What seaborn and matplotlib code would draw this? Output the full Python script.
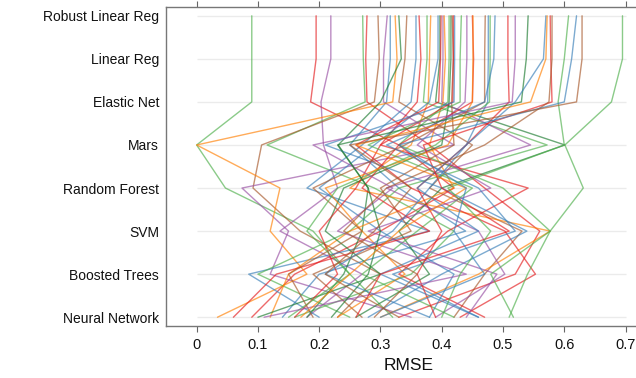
import numpy as np
import pandas as pd
import matplotlib
matplotlib.use('Agg')
import matplotlib.pyplot as plt
import seaborn as sns

# models, top to bottom
models = ['Robust Linear Reg', 'Linear Reg', 'Elastic Net', 'Mars',
          'Random Forest', 'SVM', 'Boosted Trees', 'Neural Network']

# RMSE of each resample (one value per line) for every model
robust = [0.090, 0.195, 0.219, 0.271, 0.278, 0.296, 0.311, 0.316, 0.324, 0.330, 0.343,
          0.358, 0.363, 0.376, 0.382, 0.394, 0.397, 0.399, 0.402, 0.404, 0.412, 0.415,
          0.417, 0.419, 0.421, 0.432, 0.441, 0.450, 0.451, 0.471, 0.476, 0.479, 0.487,
          0.508, 0.520, 0.541, 0.570, 0.572, 0.577, 0.580, 0.607, 0.620, 0.629, 0.695]
linear = [0.090, 0.195, 0.219, 0.272, 0.276, 0.298, 0.305, 0.316, 0.327, 0.334, 0.340,
          0.358, 0.366, 0.376, 0.380, 0.394, 0.397, 0.398, 0.402, 0.406, 0.412, 0.415,
          0.419, 0.419, 0.421, 0.430, 0.441, 0.452, 0.451, 0.470, 0.476, 0.479, 0.485,
          0.508, 0.520, 0.538, 0.566, 0.570, 0.578, 0.580, 0.600, 0.612, 0.629, 0.695]
elastic = [0.090, 0.186, 0.203, 0.275, 0.278, 0.290, 0.305, 0.310, 0.320, 0.300, 0.330,
           0.350, 0.360, 0.370, 0.378, 0.380, 0.390, 0.395, 0.400, 0.402, 0.410, 0.412,
           0.416, 0.418, 0.420, 0.430, 0.438, 0.450, 0.450, 0.470, 0.475, 0.478, 0.470,
           0.510, 0.515, 0.530, 0.520, 0.545, 0.580, 0.575, 0.590, 0.600, 0.620, 0.677]
mars = [0.000, 0.330, 0.207, 0.115, 0.380, 0.106, 0.420, 0.250, 0.000, 0.231, 0.450,
        0.270, 0.300, 0.572, 0.350, 0.290, 0.601, 0.260, 0.545, 0.380, 0.330, 0.400,
        0.420, 0.300, 0.210, 0.280, 0.360, 0.330, 0.410, 0.340, 0.440, 0.390, 0.310,
        0.440, 0.190, 0.230, 0.440, 0.260, 0.370, 0.470, 0.600, 0.330, 0.250, 0.601]
rf = [0.047, 0.420, 0.230, 0.290, 0.470, 0.092, 0.074, 0.330, 0.136, 0.280, 0.380,
      0.180, 0.541, 0.330, 0.250, 0.200, 0.400, 0.350, 0.310, 0.420, 0.500, 0.240,
      0.300, 0.260, 0.400, 0.450, 0.480, 0.270, 0.210, 0.190, 0.380, 0.230, 0.460,
      0.360, 0.320, 0.280, 0.360, 0.440, 0.400, 0.310, 0.410, 0.440, 0.350, 0.631]
svm = [0.190, 0.300, 0.136, 0.420, 0.560, 0.169, 0.150, 0.439, 0.120, 0.270, 0.531,
       0.380, 0.410, 0.250, 0.577, 0.300, 0.330, 0.503, 0.460, 0.250, 0.577, 0.210,
       0.350, 0.200, 0.539, 0.360, 0.280, 0.380, 0.270, 0.270, 0.320, 0.180, 0.520,
       0.400, 0.230, 0.300, 0.460, 0.330, 0.510, 0.240, 0.480, 0.420, 0.290, 0.577]
bt = [0.250, 0.160, 0.270, 0.350, 0.520, 0.300, 0.120, 0.200, 0.180, 0.240, 0.470,
      0.085, 0.330, 0.100, 0.460, 0.420, 0.380, 0.553, 0.503, 0.150, 0.540, 0.300,
      0.190, 0.230, 0.400, 0.270, 0.490, 0.130, 0.340, 0.150, 0.210, 0.250, 0.320,
      0.360, 0.440, 0.280, 0.300, 0.250, 0.300, 0.360, 0.430, 0.470, 0.210, 0.480]
nn = [0.320, 0.090, 0.180, 0.160, 0.330, 0.230, 0.350, 0.140, 0.034, 0.180, 0.420,
      0.200, 0.470, 0.250, 0.300, 0.380, 0.260, 0.430, 0.390, 0.120, 0.510, 0.100,
      0.270, 0.160, 0.280, 0.420, 0.440, 0.060, 0.230, 0.190, 0.380, 0.150, 0.460,
      0.390, 0.110, 0.220, 0.460, 0.170, 0.260, 0.290, 0.400, 0.300, 0.330, 0.517]

xticks = [0, 0.1, 0.2, 0.3, 0.4, 0.5, 0.6, 0.7]
xtick_labels = ['0', '0.1', '0.2', '0.3', '0.4', '0.5', '0.6', '0.7']

# line colours
pal = {'r': '#e41a1c', 'b': '#377eb8', 'g': '#4daf4a', 'p': '#984ea3',
       'o': '#ff7f00', 'n': '#a65628', 'd': '#1b7a2e'}
line_col = 'grpgrnpbodnbrgobdrpogdnrbgpronbgbrpdborngbng'

df = pd.DataFrame({'Robust Linear Reg': robust, 'Linear Reg': linear,
                   'Elastic Net': elastic, 'Mars': mars, 'Random Forest': rf,
                   'SVM': svm, 'Boosted Trees': bt, 'Neural Network': nn})
df['line'] = ['s%02d' % i for i in range(len(df))]
long = df.melt(id_vars='line', var_name='model', value_name='RMSE')
long['pos'] = long['model'].map({m: i for i, m in enumerate(models)})
long = long.sort_values(['line', 'pos'])

palette = {lab: pal[c] for lab, c in zip(df['line'], line_col)}

sns.set_style('white')
plt.rcParams['font.family'] = ['Liberation Sans', 'DejaVu Sans']

fig, ax = plt.subplots(figsize=(6.36, 3.78), dpi=100)
# axes runs a little past the right edge of the picture (cropped like the original)
fig.subplots_adjust(left=0.261, right=1.025, bottom=0.138, top=0.981)

ax.hlines(range(len(models)), 0, 0.7, color='#ebebeb', lw=1, zorder=0)
sns.lineplot(data=long, x='RMSE', y='pos', hue='line', palette=palette,
             estimator=None, sort=False, orient='y', legend=False,
             lw=1, alpha=0.65, ax=ax)

ax.set_xlim(-0.05, 0.743)
ax.set_ylim(len(models) - 1 + 0.2, -0.2)
ax.set_xticks(xticks)
ax.set_xticklabels(xtick_labels)
ax.set_yticks(range(len(models)))
ax.set_yticklabels(models)
ax.tick_params(axis='x', top=True, bottom=True, direction='out', length=4,
               color='#666666', labelsize=10.5, labelcolor='#111111', pad=5)
ax.tick_params(axis='y', length=0, pad=5, labelsize=10, labelcolor='#111111')
for s in ['left', 'bottom', 'top']:
    ax.spines[s].set_color('#777777')
    ax.spines[s].set_linewidth(1)
ax.spines['right'].set_visible(False)
ax.set_xlabel('RMSE', fontsize=12.5, color='#111111', labelpad=4)
ax.set_ylabel('')

plt.savefig('out.png', dpi=100)
